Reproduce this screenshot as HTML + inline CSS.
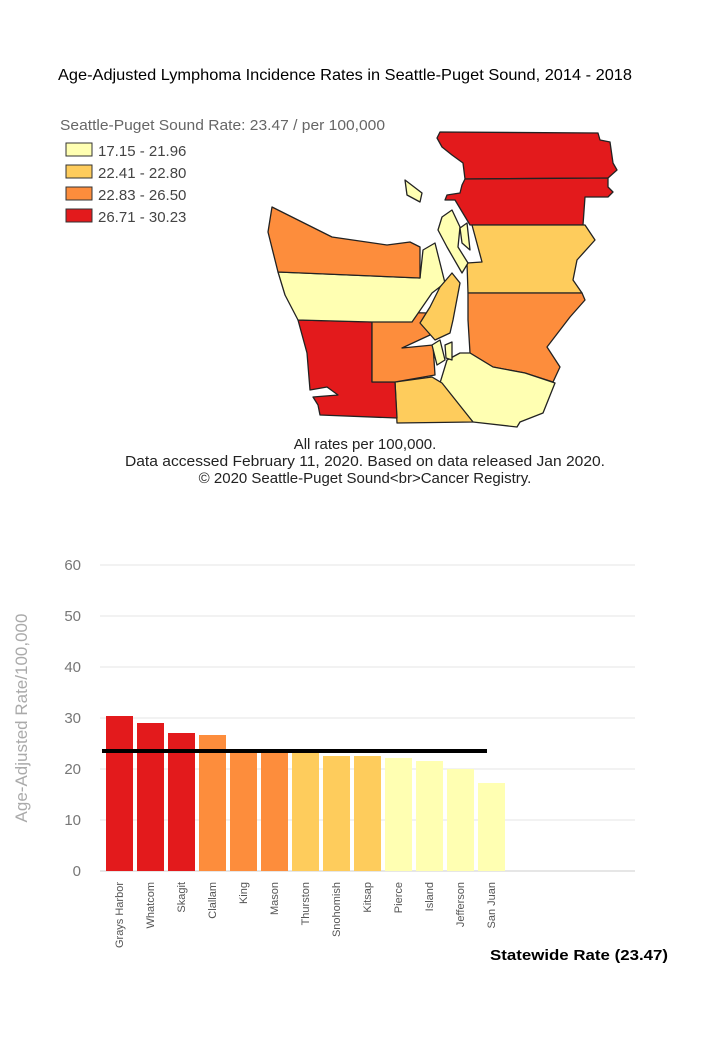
<!DOCTYPE html>
<html><head><meta charset="utf-8"><style>
body{margin:0;background:#fff;width:720px;height:1040px;overflow:hidden;font-family:"Liberation Sans",sans-serif;}
</style></head><body>
<svg width="720" height="1040" xmlns="http://www.w3.org/2000/svg" font-family="Liberation Sans, sans-serif">
<text x="58" y="80" font-size="16" fill="#000" textLength="574" lengthAdjust="spacingAndGlyphs">Age-Adjusted Lymphoma Incidence Rates in Seattle-Puget Sound, 2014 - 2018</text>
<text x="60" y="130" font-size="15" fill="#666" textLength="325" lengthAdjust="spacingAndGlyphs">Seattle-Puget Sound Rate: 23.47 / per 100,000</text>
<g font-size="15" fill="#444" stroke="#333" stroke-width="1">
<rect x="66" y="143" width="26" height="13" fill="#ffffb2"/><text x="98" y="156" stroke="none">17.15 - 21.96</text>
<rect x="66" y="165" width="26" height="13" fill="#fecc5c"/><text x="98" y="178" stroke="none">22.41 - 22.80</text>
<rect x="66" y="187" width="26" height="13" fill="#fd8d3c"/><text x="98" y="200" stroke="none">22.83 - 26.50</text>
<rect x="66" y="209" width="26" height="13" fill="#e31a1c"/><text x="98" y="222" stroke="none">26.71 - 30.23</text>
</g>
<g stroke="#222" stroke-width="1.3" stroke-linejoin="round">
<polygon fill="#e31a1c" points="440,132 598,133 600,140 610,142 613,163 617,170 608,178 465,179 463,163 452,155 442,147 437,138"/>
<polygon fill="#e31a1c" points="465,179 608,178 608,187 613,192 608,197 585,197 583,225 470,225 455,200 445,200 447,195 460,193 462,185"/>
<polygon fill="#fecc5c" points="472,225 585,225 595,240 577,260 573,280 582,293 468,293 467,263 482,262"/>
<polygon fill="#fd8d3c" points="468,293 582,293 585,300 570,317 547,347 560,367 553,382 525,373 493,367 470,353 468,320"/>
<polygon fill="#ffffb2" points="470,353 493,367 525,373 555,383 543,413 520,422 517,427 473,422 440,383 447,360 460,353"/>
<polygon fill="#fecc5c" points="395,382 432,377 442,383 473,422 397,423"/>
<polygon fill="#e31a1c" points="298,320 372,322 372,382 395,382 397,418 320,415 318,405 313,397 338,395 327,387 310,390 307,353"/>
<polygon fill="#fd8d3c" points="372,312 430,313 430,335 402,348 433,345 435,375 395,382 372,382"/>
<polygon fill="#ffffb2" points="278,272 420,278 423,250 435,243 445,283 432,293 412,322 372,322 298,320 285,295"/>
<polygon fill="#fd8d3c" points="272,207 332,237 387,245 410,242 420,247 420,278 278,272 268,232"/>
<polygon fill="#fecc5c" points="440,287 452,273 460,283 453,320 450,333 435,340 420,323 430,307"/>
<polygon fill="#ffffb2" points="442,217 452,210 460,227 458,247 468,263 462,273 447,247 438,230"/>
<polygon fill="#ffffb2" points="460,228 467,223 470,250 462,243"/>
<polygon fill="#ffffb2" points="405,180 422,193 420,202 407,195"/>
<polygon fill="#ffffb2" points="432,345 440,340 445,360 437,365"/>
<polygon fill="#ffffb2" points="445,345 452,342 452,360 446,358"/>
</g>
<g font-size="15" fill="#222" text-anchor="middle">
<text x="365" y="449">All rates per 100,000.</text>
<text x="365" y="466" textLength="480" lengthAdjust="spacingAndGlyphs">Data accessed February 11, 2020. Based on data released Jan 2020.</text>
<text x="365" y="483">© 2020 Seattle-Puget Sound&lt;br&gt;Cancer Registry.</text>
</g>
<g stroke="#e6e6e6" stroke-width="1">
<line x1="100" y1="565" x2="635" y2="565"/><line x1="100" y1="616" x2="635" y2="616"/>
<line x1="100" y1="667" x2="635" y2="667"/><line x1="100" y1="718" x2="635" y2="718"/>
<line x1="100" y1="769" x2="635" y2="769"/><line x1="100" y1="820" x2="635" y2="820"/>
<line x1="100" y1="871" x2="635" y2="871" stroke="#ccc"/>
</g>
<g font-size="15" fill="#777" text-anchor="end">
<text x="81" y="570">60</text><text x="81" y="621">50</text><text x="81" y="672">40</text>
<text x="81" y="723">30</text><text x="81" y="774">20</text><text x="81" y="825">10</text><text x="81" y="876">0</text>
</g>
<text transform="translate(27,718) rotate(-90)" text-anchor="middle" font-size="17" fill="#aaa">Age-Adjusted Rate/100,000</text>
<g>
<rect x="106" y="716" width="27" height="155" fill="#e31a1c"/>
<rect x="137" y="723" width="27" height="148" fill="#e31a1c"/>
<rect x="168" y="733" width="27" height="138" fill="#e31a1c"/>
<rect x="199" y="735" width="27" height="136" fill="#fd8d3c"/>
<rect x="230" y="749" width="27" height="122" fill="#fd8d3c"/>
<rect x="261" y="753" width="27" height="118" fill="#fd8d3c"/>
<rect x="292" y="753" width="27" height="118" fill="#fecc5c"/>
<rect x="323" y="756" width="27" height="115" fill="#fecc5c"/>
<rect x="354" y="756" width="27" height="115" fill="#fecc5c"/>
<rect x="385" y="758" width="27" height="113" fill="#ffffb2"/>
<rect x="416" y="761" width="27" height="110" fill="#ffffb2"/>
<rect x="447" y="769" width="27" height="102" fill="#ffffb2"/>
<rect x="478" y="783" width="27" height="88" fill="#ffffb2"/>
</g>
<line x1="102" y1="751" x2="487" y2="751" stroke="#000" stroke-width="4"/>
<g font-size="11" fill="#555" text-anchor="end">
<text transform="translate(123,882) rotate(-90)">Grays Harbor</text>
<text transform="translate(154,882) rotate(-90)">Whatcom</text>
<text transform="translate(185,882) rotate(-90)">Skagit</text>
<text transform="translate(216,882) rotate(-90)">Clallam</text>
<text transform="translate(247,882) rotate(-90)">King</text>
<text transform="translate(278,882) rotate(-90)">Mason</text>
<text transform="translate(309,882) rotate(-90)">Thurston</text>
<text transform="translate(340,882) rotate(-90)">Snohomish</text>
<text transform="translate(371,882) rotate(-90)">Kitsap</text>
<text transform="translate(402,882) rotate(-90)">Pierce</text>
<text transform="translate(433,882) rotate(-90)">Island</text>
<text transform="translate(464,882) rotate(-90)">Jefferson</text>
<text transform="translate(495,882) rotate(-90)">San Juan</text>
</g>
<text x="490" y="960" font-size="15" font-weight="bold" fill="#000" textLength="178" lengthAdjust="spacingAndGlyphs">Statewide Rate (23.47)</text>
</svg>
</body></html>
